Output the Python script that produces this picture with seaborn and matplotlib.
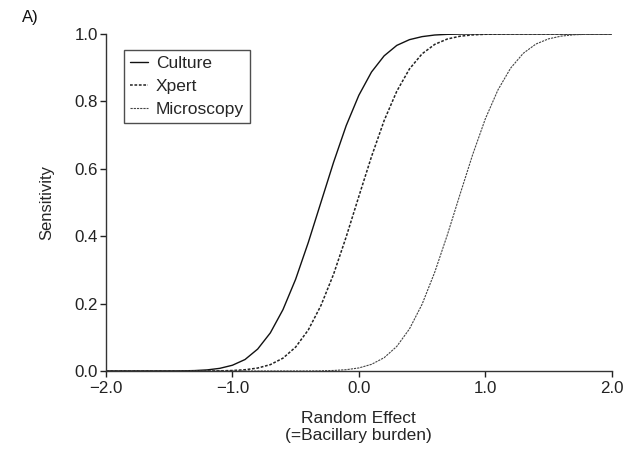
import matplotlib
matplotlib.use("Agg")
import matplotlib.pyplot as plt
import seaborn as sns
import pandas as pd

sns.set_style("ticks")
plt.rcParams['font.family'] = ['Liberation Sans', 'DejaVu Sans']

x_culture = [-2.0, -1.5, -1.4, -1.3, -1.2, -1.1, -1.0, -0.9, -0.8, -0.7, -0.6, -0.5, -0.4, -0.3,
             -0.2, -0.1, 0.0, 0.1, 0.2, 0.3, 0.4, 0.5, 0.6, 0.7, 0.8, 0.9, 2.0]
y_culture = [0.0, 0.0, 0.0004, 0.0012, 0.0032, 0.0078, 0.017, 0.034, 0.065, 0.113, 0.182, 0.272,
             0.381, 0.50, 0.619, 0.728, 0.818, 0.887, 0.935, 0.966, 0.983, 0.992, 0.9968,
             0.9988, 0.9996, 1.0, 1.0]

x_xpert = [-2.0, -1.2, -1.1, -1.0, -0.9, -0.8, -0.7, -0.6, -0.5, -0.4, -0.3, -0.2, -0.1,
           0.0, 0.1, 0.2, 0.3, 0.4, 0.5, 0.6, 0.7, 0.8, 0.9, 1.0, 1.1, 1.2, 2.0]
y_xpert = [0.0, 0.0, 0.0004, 0.0014, 0.0037, 0.0087, 0.0188, 0.038, 0.0708, 0.1216, 0.194,
           0.287, 0.398, 0.518, 0.636, 0.743, 0.830, 0.896, 0.941, 0.969, 0.985, 0.9932,
           0.9972, 0.999, 0.9996, 1.0, 1.0]

x_micro = [-2.0, -0.4, -0.3, -0.2, -0.1, 0.0, 0.1, 0.2, 0.3, 0.4, 0.5, 0.6, 0.7, 0.8, 0.9,
           1.0, 1.1, 1.2, 1.3, 1.4, 1.5, 1.6, 1.7, 1.8, 1.9, 2.0]
y_micro = [0.0, 0.0, 0.0005, 0.0015, 0.0038, 0.009, 0.0197, 0.0394, 0.0729, 0.1247, 0.198,
           0.293, 0.404, 0.524, 0.642, 0.748, 0.834, 0.8985, 0.9425, 0.970, 0.9854, 0.9935,
           0.9974, 0.999, 0.9997, 1.0]

series_names = ["Culture", "Xpert", "Microscopy"]
x_ticks = [-2.0, -1.0, 0.0, 1.0, 2.0]
y_ticks = [0.0, 0.2, 0.4, 0.6, 0.8, 1.0]

df = pd.concat([
    pd.DataFrame({"x": x_culture, "y": y_culture, "test": series_names[0]}),
    pd.DataFrame({"x": x_xpert, "y": y_xpert, "test": series_names[1]}),
    pd.DataFrame({"x": x_micro, "y": y_micro, "test": series_names[2]}),
])

fig = plt.figure(figsize=(6.23, 4.5), dpi=100)
ax = fig.add_axes([0.170, 0.1756, 0.812, 0.749])

styles = {
    "Culture": dict(color="#111111", linestyle="-", linewidth=1.0),
    "Xpert": dict(color="#222222", linestyle=(0, (1.8, 1.1)), linewidth=1.1),
    "Microscopy": dict(color="#444444", linestyle=(0, (2.0, 0.9)), linewidth=0.8),
}
for name in series_names:
    sub = df[df["test"] == name]
    sns.lineplot(data=sub, x="x", y="y", ax=ax, label=name, **styles[name])
for ln in ax.get_lines():
    ln.set_solid_joinstyle("round")
    ln.set_dash_joinstyle("round")

ax.set_xlim(-2.0, 2.0)
ax.set_ylim(0.0, 1.0)
ax.set_xticks(x_ticks)
ax.set_xticklabels([f"{v:.1f}".replace("-", "\u2212") for v in x_ticks])
ax.set_yticks(y_ticks)
ax.set_yticklabels([f"{v:.1f}" for v in y_ticks])
ax.tick_params(axis="both", direction="out", length=4.3, width=1, labelsize=12.2, colors="#222222")
ax.tick_params(axis="y", pad=1.5)
ax.tick_params(axis="x", pad=3)
for s in ["top", "right"]:
    ax.spines[s].set_visible(False)
for s in ["left", "bottom"]:
    ax.spines[s].set_linewidth(1)
    ax.spines[s].set_color("#333333")

ax.set_ylabel("Sensitivity", fontsize=12)
ax.yaxis.set_label_coords(-0.103, 0.5)
ax.set_xlabel("Random Effect\n(=Bacillary burden)", fontsize=12.5, linespacing=1.15)
ax.xaxis.set_label_coords(0.5, -0.12)

leg = ax.legend(loc="upper left", bbox_to_anchor=(0.0356, 0.9525), frameon=True, fancybox=False,
                fontsize=12.5, handlelength=1.05, handletextpad=0.45, borderpad=0.35,
                labelspacing=0.45, borderaxespad=0)
leg.get_frame().set_edgecolor("#222222")
leg.get_frame().set_linewidth(1)

fig.text(22 / 623, 1 - 22 / 450, "A)", fontsize=12, color="#111111")

fig.savefig("out.png", dpi=100, facecolor="white")
